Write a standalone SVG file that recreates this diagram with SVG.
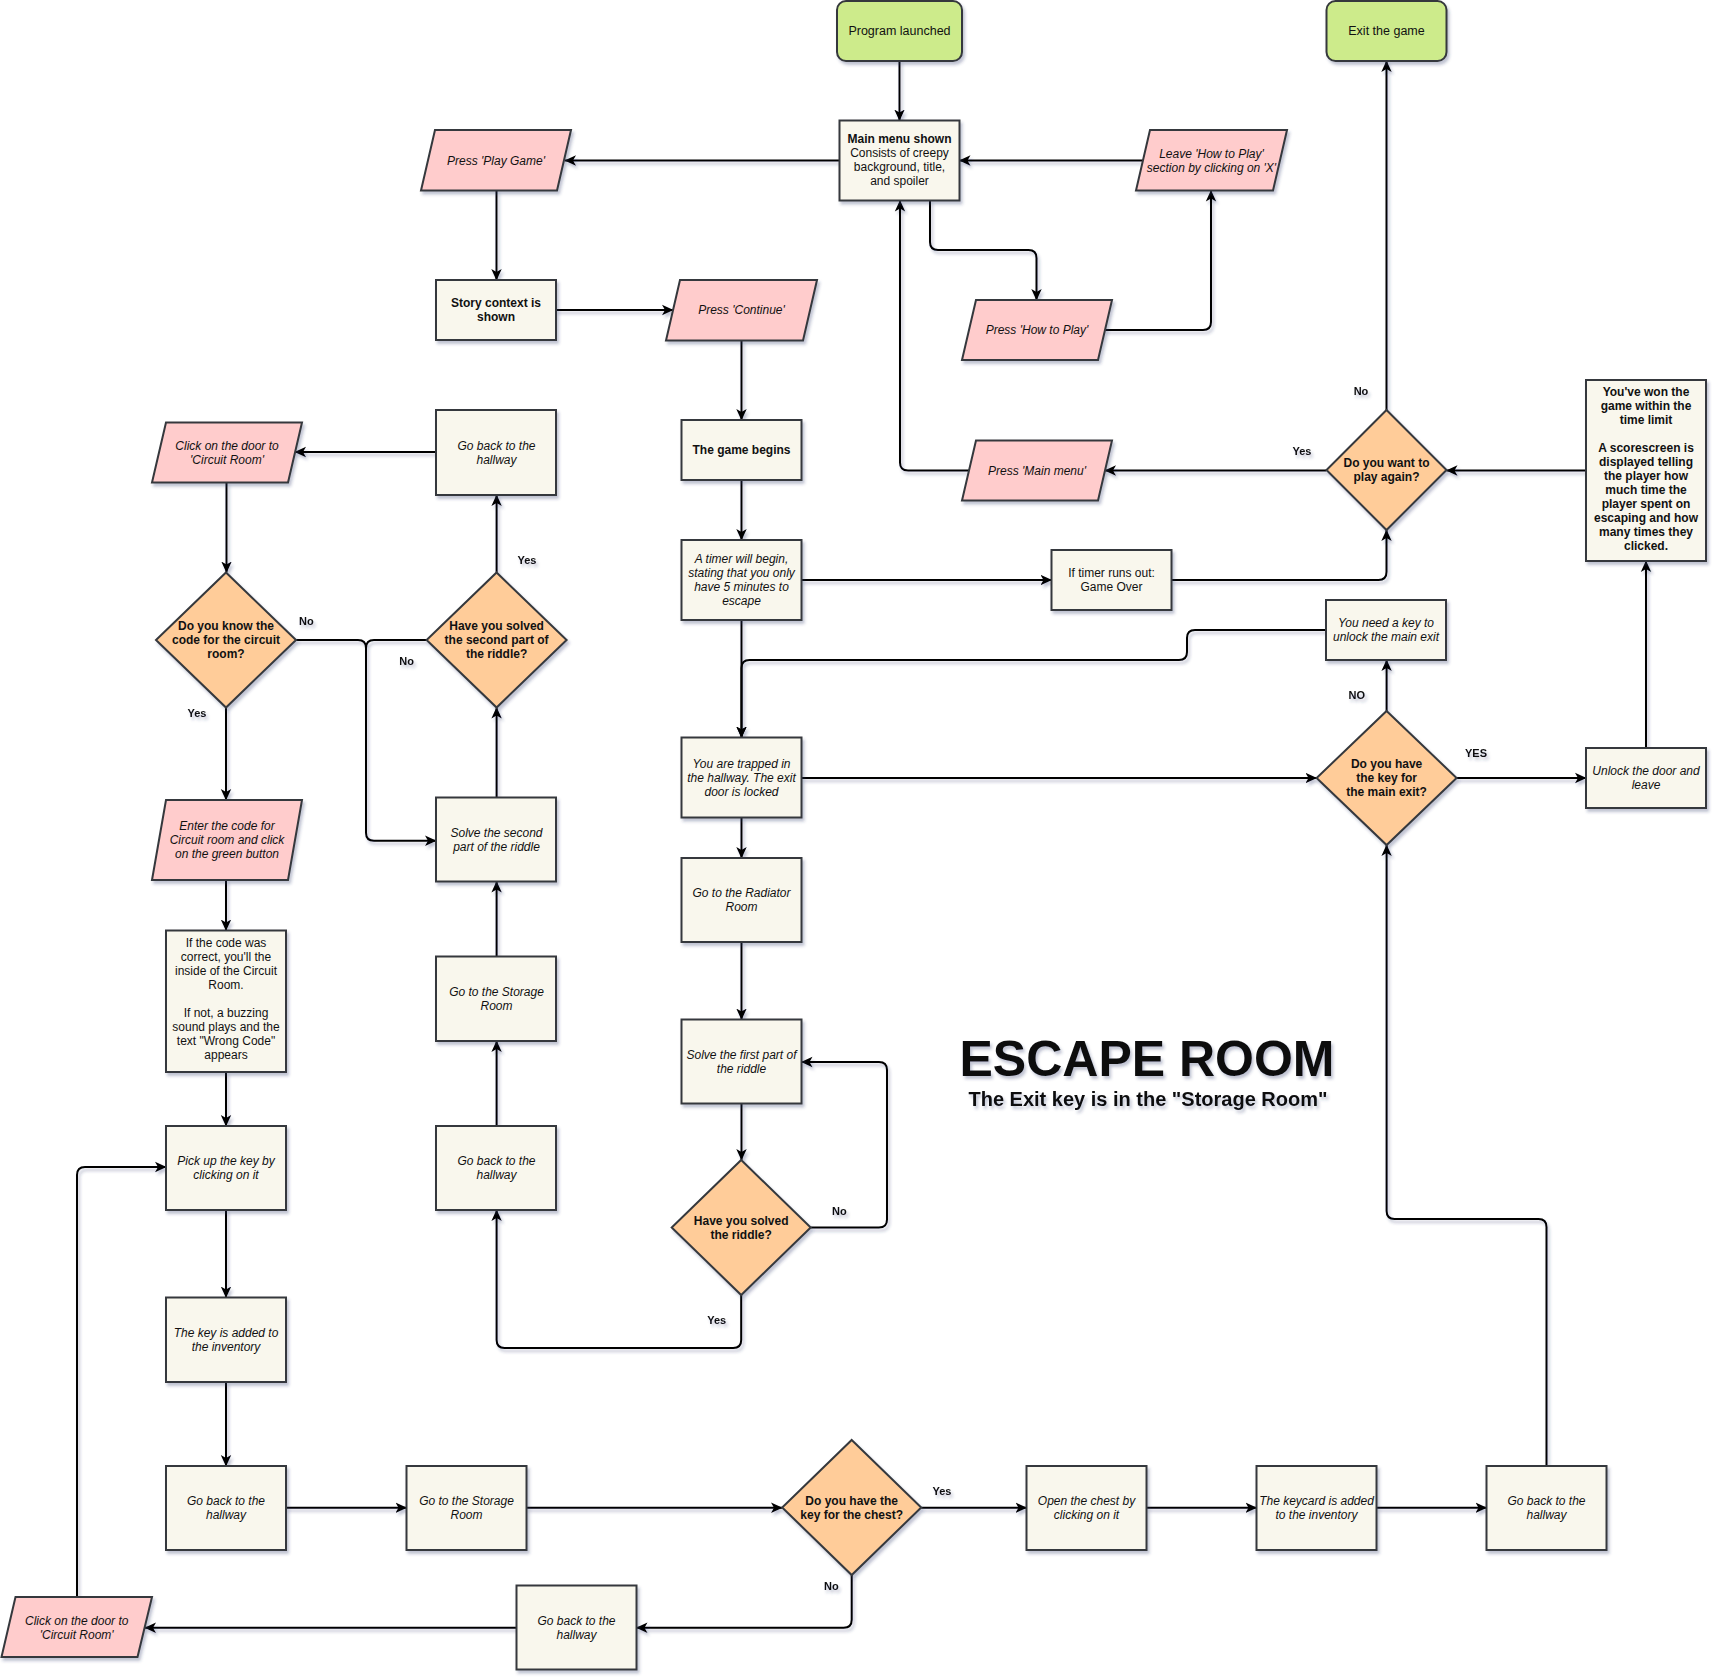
<svg xmlns="http://www.w3.org/2000/svg" width="1714" height="1677" viewBox="0 0 1714 1677">
<defs>
<filter id="sh" x="-20%" y="-20%" width="140%" height="140%"><feDropShadow dx="2" dy="3" stdDeviation="1.5" flood-color="#2a3a6a" flood-opacity="0.3"/></filter>
<marker id="arr" viewBox="0 0 12 12" refX="11" refY="6" markerWidth="12" markerHeight="12" markerUnits="userSpaceOnUse" orient="auto"><path d="M0,0.8 L11.5,6 L0,11.2 L3,6 Z" fill="#000"/></marker>
<style>
.b{fill:#f9f7ed;stroke:#36393d;stroke-width:2;filter:url(#sh)}
.p{fill:#ffcccc;stroke:#36393d;stroke-width:2;filter:url(#sh)}
.g{fill:#cdeb8b;stroke:#36393d;stroke-width:2;filter:url(#sh)}
.d{fill:#ffcc99;stroke:#36393d;stroke-width:2;filter:url(#sh)}
text{font-family:"Liberation Sans",Arial,Helvetica,sans-serif;font-size:12px;fill:#111;text-anchor:middle}
.i{font-style:italic}
.bo{font-weight:bold}
.lbl{font-size:11px;font-weight:bold}
.e{fill:none;stroke:#000;stroke-width:2;marker-end:url(#arr)}
.en{fill:none;stroke:#000;stroke-width:2}
</style>
</defs>
<rect width="1714" height="1677" fill="#fff"/>

<g id="connectors" filter="url(#sh)">
<path class="e" d="M899.5,61 V120.5"/>
<path class="e" d="M839.5,160.5 H565"/>
<path class="e" d="M496.5,190.5 V280"/>
<path class="e" d="M556,310 H673"/>
<path class="e" d="M741.5,340.5 V420"/>
<path class="e" d="M741.5,480 V540"/>
<path class="e" d="M801.5,580 H1051.5"/>
<path class="e" d="M1171.5,580 H1378.5 Q1386.5,580 1386.5,572 V530"/>
<path class="e" d="M741.5,620 V737.5"/>
<path class="e" d="M1326,630 H1195 Q1187,630 1187,638 V652 Q1187,660 1179,660 H749.5 Q741.5,660 741.5,668 V737.5"/>
<path class="e" d="M801.5,778 H1316.5"/>
<path class="e" d="M741.5,817.5 V858"/>
<path class="e" d="M741.5,942 V1019.5"/>
<path class="e" d="M741.5,1103.5 V1160"/>
<path class="e" d="M810.7,1227.5 H879 Q887,1227.5 887,1219.5 V1070 Q887,1062 879,1062 H801.5"/>
<path class="e" d="M741.2,1295 V1340 Q741.2,1348 733.2,1348 H504.6 Q496.6,1348 496.6,1340 V1210"/>
<path class="e" d="M496.6,1126 V1041"/>
<path class="e" d="M496.6,956.5 V881.5"/>
<path class="e" d="M496.6,797.5 V707.5"/>
<path class="e" d="M496.6,572.5 V495"/>
<path class="e" d="M436,452 H295"/>
<path class="e" d="M226.5,482.5 V572.5"/>
<path class="e" d="M226,707.5 V800"/>
<path class="e" d="M226,880 V930.5"/>
<path class="e" d="M226,1072 V1126"/>
<path class="e" d="M226,1210 V1297.5"/>
<path class="e" d="M226,1382 V1466"/>
<path class="e" d="M286,1507.7 H406.5"/>
<path class="e" d="M526.5,1507.7 H782"/>
<path class="e" d="M921.2,1507.7 H1026.5"/>
<path class="e" d="M1146.5,1507.7 H1256.5"/>
<path class="e" d="M1376.5,1507.7 H1486.5"/>
<path class="e" d="M1546.5,1466 V1227 Q1546.5,1219 1538.5,1219 H1394.6 Q1386.6,1219 1386.6,1211 V845"/>
<path class="e" d="M851.7,1575 V1619.7 Q851.7,1627.7 843.7,1627.7 H636.5"/>
<path class="e" d="M516.5,1627.7 H145"/>
<path class="e" d="M77,1597 V1175 Q77,1167 85,1167 H166"/>
<path class="e" d="M296,640 H358 Q366,640 366,648 V832.7 Q366,840.7 374,840.7 H436"/>
<path class="en" d="M426.6,640 H374 Q366,640 366,648 V660"/>
<path class="e" d="M930,200.5 V242 Q930,250 938,250 H1028.5 Q1036.5,250 1036.5,258 V300"/>
<path class="e" d="M1105,330 H1203 Q1211,330 1211,322 V190.5"/>
<path class="e" d="M1143,160.5 H959.5"/>
<path class="e" d="M969,470.5 H908 Q900,470.5 900,462.5 V200.5"/>
<path class="e" d="M1326.5,470.5 H1105"/>
<path class="e" d="M1386.5,410 V61"/>
<path class="e" d="M1586,470.5 H1446.5"/>
<path class="e" d="M1646,748 V561"/>
<path class="e" d="M1456.6,778 H1586"/>
<path class="e" d="M1386.6,711 V660"/>
</g>

<g id="edge-labels" filter="url(#sh)">
<text class="lbl" x="1361" y="394.7">No</text>
<text class="lbl" x="1302" y="454.7">Yes</text>
<text class="lbl" x="1356.7" y="699">NO</text>
<text class="lbl" x="1476" y="757.3">YES</text>
<text class="lbl" x="306.4" y="624.7">No</text>
<text class="lbl" x="406.7" y="664.7">No</text>
<text class="lbl" x="527" y="564.3">Yes</text>
<text class="lbl" x="197" y="717.3">Yes</text>
<text class="lbl" x="839.3" y="1215">No</text>
<text class="lbl" x="716.7" y="1324.4">Yes</text>
<text class="lbl" x="942" y="1494.7">Yes</text>
<text class="lbl" x="831.3" y="1589.7">No</text>
</g>

<g id="n-program-launched"><rect class="g" x="837" y="1" width="125" height="60" rx="9"/><text x="899.5" y="35" style="font-size:12.5px">Program launched</text></g>
<g id="n-exit"><rect class="g" x="1326.5" y="1" width="120" height="60" rx="9"/><text x="1386.5" y="35" style="font-size:12.5px">Exit the game</text></g>
<g id="n-main-menu"><rect class="b" x="839.5" y="120.5" width="120" height="80"/><text x="899.5" y="142.5"><tspan class="bo">Main menu shown</tspan><tspan x="899.5" dy="14">Consists of creepy</tspan><tspan x="899.5" dy="14">background, title,</tspan><tspan x="899.5" dy="14">and spoiler</tspan></text></g>
<g id="n-play-game"><polygon class="p" points="435,130 571,130 557,190.5 421,190.5"/><text class="i" x="496" y="164.5">Press 'Play Game'</text></g>
<g id="n-story"><rect class="b" x="436" y="280" width="120" height="60"/><text class="bo" x="496" y="307">Story context is<tspan x="496" dy="14">shown</tspan></text></g>
<g id="n-continue"><polygon class="p" points="680,280 817,280 803,340.5 666,340.5"/><text class="i" x="741.5" y="314">Press 'Continue'</text></g>
<g id="n-leave-htp"><polygon class="p" points="1150,130 1287,130 1273,190.5 1136,190.5"/><text class="i" x="1211.5" y="157.5">Leave 'How to Play'<tspan x="1211.5" dy="14">section by clicking on 'X'</tspan></text></g>
<g id="n-press-htp"><polygon class="p" points="976,300 1112,300 1098,360 962,360"/><text class="i" x="1037" y="334">Press 'How to Play'</text></g>
<g id="n-press-main-menu"><polygon class="p" points="976,440.5 1112,440.5 1098,500.5 962,500.5"/><text class="i" x="1037" y="474.5">Press 'Main menu'</text></g>
<g id="n-game-begins"><rect class="b" x="681.5" y="420" width="120" height="60"/><text class="bo" x="741.5" y="454">The game begins</text></g>
<g id="n-timer"><rect class="b" x="681.5" y="540" width="120" height="80"/><text class="i" x="741.5" y="563">A timer will begin,<tspan x="741.5" dy="14">stating that you only</tspan><tspan x="741.5" dy="14">have 5 minutes to</tspan><tspan x="741.5" dy="14">escape</tspan></text></g>
<g id="n-timer-out"><rect class="b" x="1051.5" y="550" width="120" height="60"/><text x="1111.5" y="577">If timer runs out:<tspan x="1111.5" dy="14">Game Over</tspan></text></g>
<g id="n-play-again"><polygon class="d" points="1386.5,410 1446.5,470 1386.5,530 1326.5,470"/><text class="bo" x="1386.5" y="467">Do you want to<tspan x="1386.5" dy="14">play again?</tspan></text></g>
<g id="n-won"><rect class="b" x="1586" y="380" width="120" height="181"/><text class="bo" x="1646" y="395.7">You've won the<tspan x="1646" dy="14">game within the</tspan><tspan x="1646" dy="14">time limit</tspan><tspan x="1646" dy="28">A scorescreen is</tspan><tspan x="1646" dy="14">displayed telling</tspan><tspan x="1646" dy="14">the player how</tspan><tspan x="1646" dy="14">much time the</tspan><tspan x="1646" dy="14">player spent on</tspan><tspan x="1646" dy="14">escaping and how</tspan><tspan x="1646" dy="14">many times they</tspan><tspan x="1646" dy="14">clicked.</tspan></text></g>
<g id="n-need-key"><rect class="b" x="1326" y="600" width="120" height="60"/><text class="i" x="1386" y="627">You need a key to<tspan x="1386" dy="14">unlock the main exit</tspan></text></g>
<g id="n-main-exit"><polygon class="d" points="1386.6,711 1456.6,778 1386.6,845 1316.6,778"/><text class="bo" x="1386.6" y="768">Do you have<tspan x="1386.6" dy="14">the key for</tspan><tspan x="1386.6" dy="14">the main exit?</tspan></text></g>
<g id="n-unlock"><rect class="b" x="1586" y="748" width="120" height="60"/><text class="i" x="1646" y="775">Unlock the door and<tspan x="1646" dy="14">leave</tspan></text></g>
<g id="n-trapped"><rect class="b" x="681.5" y="737.5" width="120" height="80"/><text class="i" x="741.5" y="768">You are trapped in<tspan x="741.5" dy="14">the hallway. The exit</tspan><tspan x="741.5" dy="14">door is locked</tspan></text></g>
<g id="n-radiator"><rect class="b" x="681.5" y="858" width="120" height="84"/><text class="i" x="741.5" y="896.7">Go to the Radiator<tspan x="741.5" dy="14">Room</tspan></text></g>
<g id="n-solve-first"><rect class="b" x="681.5" y="1019.5" width="120" height="84"/><text class="i" x="741.5" y="1058.5">Solve the first part of<tspan x="741.5" dy="14">the riddle</tspan></text></g>
<g id="n-riddle"><polygon class="d" points="741.2,1160 810.7,1227.5 741.2,1295 671.7,1227.5"/><text class="bo" x="741.2" y="1224.5">Have you solved<tspan x="741.2" dy="14">the riddle?</tspan></text></g>
<g id="n-hallway-1"><rect class="b" x="436" y="410" width="120" height="85"/><text class="i" x="496.5" y="449.5">Go back to the<tspan x="496.5" dy="14">hallway</tspan></text></g>
<g id="n-circuit-door-1"><polygon class="p" points="166,422.5 302,422.5 288,482.5 152,482.5"/><text class="i" x="227" y="449.5">Click on the door to<tspan x="227" dy="14">'Circuit Room'</tspan></text></g>
<g id="n-know-code"><polygon class="d" points="226,572.5 296,640 226,707.5 156,640"/><text class="bo" x="226" y="630">Do you know the<tspan x="226" dy="14">code for the circuit</tspan><tspan x="226" dy="14">room?</tspan></text></g>
<g id="n-second-riddle"><polygon class="d" points="496.6,572.5 566.6,640 496.6,707.5 426.6,640"/><text class="bo" x="496.6" y="630">Have you solved<tspan x="496.6" dy="14">the second part of</tspan><tspan x="496.6" dy="14">the riddle?</tspan></text></g>
<g id="n-enter-code"><polygon class="p" points="166,800 302,800 288,880 152,880"/><text class="i" x="227" y="830">Enter the code for<tspan x="227" dy="14">Circuit room and click</tspan><tspan x="227" dy="14">on the green button</tspan></text></g>
<g id="n-solve-second"><rect class="b" x="436" y="797.5" width="120" height="84"/><text class="i" x="496.5" y="836.7">Solve the second<tspan x="496.5" dy="14">part of the riddle</tspan></text></g>
<g id="n-code-result"><rect class="b" x="166" y="930.5" width="120" height="141.5"/><text x="226" y="947.3">If the code was<tspan x="226" dy="14">correct, you'll the</tspan><tspan x="226" dy="14">inside of the Circuit</tspan><tspan x="226" dy="14">Room.</tspan><tspan x="226" dy="28">If not, a buzzing</tspan><tspan x="226" dy="14">sound plays and the</tspan><tspan x="226" dy="14">text "Wrong Code"</tspan><tspan x="226" dy="14">appears</tspan></text></g>
<g id="n-storage-1"><rect class="b" x="436" y="956.5" width="120" height="84.5"/><text class="i" x="496.5" y="995.7">Go to the Storage<tspan x="496.5" dy="14">Room</tspan></text></g>
<g id="n-pick-key"><rect class="b" x="166" y="1126" width="120" height="84"/><text class="i" x="226" y="1164.7">Pick up the key by<tspan x="226" dy="14">clicking on it</tspan></text></g>
<g id="n-hallway-2"><rect class="b" x="436" y="1126" width="120" height="84"/><text class="i" x="496.5" y="1164.7">Go back to the<tspan x="496.5" dy="14">hallway</tspan></text></g>
<g id="n-key-added"><rect class="b" x="166" y="1297.5" width="120" height="84.5"/><text class="i" x="226" y="1336.7">The key is added to<tspan x="226" dy="14">the inventory</tspan></text></g>
<g id="n-hallway-3"><rect class="b" x="166" y="1466" width="120" height="84"/><text class="i" x="226" y="1504.7">Go back to the<tspan x="226" dy="14">hallway</tspan></text></g>
<g id="n-storage-2"><rect class="b" x="406.5" y="1466" width="120" height="84"/><text class="i" x="466.5" y="1504.7">Go to the Storage<tspan x="466.5" dy="14">Room</tspan></text></g>
<g id="n-chest-key"><polygon class="d" points="851.7,1440 921.2,1507.5 851.7,1575 782.2,1507.5"/><text class="bo" x="851.7" y="1504.7">Do you have the<tspan x="851.7" dy="14">key for the chest?</tspan></text></g>
<g id="n-open-chest"><rect class="b" x="1026.5" y="1466" width="120" height="84"/><text class="i" x="1086.5" y="1504.7">Open the chest by<tspan x="1086.5" dy="14">clicking on it</tspan></text></g>
<g id="n-keycard"><rect class="b" x="1256.5" y="1466" width="120" height="84"/><text class="i" x="1316.5" y="1504.7">The keycard is added<tspan x="1316.5" dy="14">to the inventory</tspan></text></g>
<g id="n-hallway-4"><rect class="b" x="1486.5" y="1466" width="120" height="84"/><text class="i" x="1546.5" y="1504.7">Go back to the<tspan x="1546.5" dy="14">hallway</tspan></text></g>
<g id="n-hallway-5"><rect class="b" x="516.5" y="1585.5" width="120" height="84"/><text class="i" x="576.5" y="1624.7">Go back to the<tspan x="576.5" dy="14">hallway</tspan></text></g>
<g id="n-circuit-door-2"><polygon class="p" points="15.5,1597 152,1597 137.5,1657 1.5,1657"/><text class="i" x="76.7" y="1624.7">Click on the door to<tspan x="76.7" dy="14">'Circuit Room'</tspan></text></g>

<g id="title" filter="url(#sh)">
<text class="bo" x="1147" y="1075.5" style="font-size:50px">ESCAPE ROOM</text>
<text class="bo" x="1148" y="1105.5" style="font-size:20px">The Exit key is in the "Storage Room"</text>
</g>
</svg>
